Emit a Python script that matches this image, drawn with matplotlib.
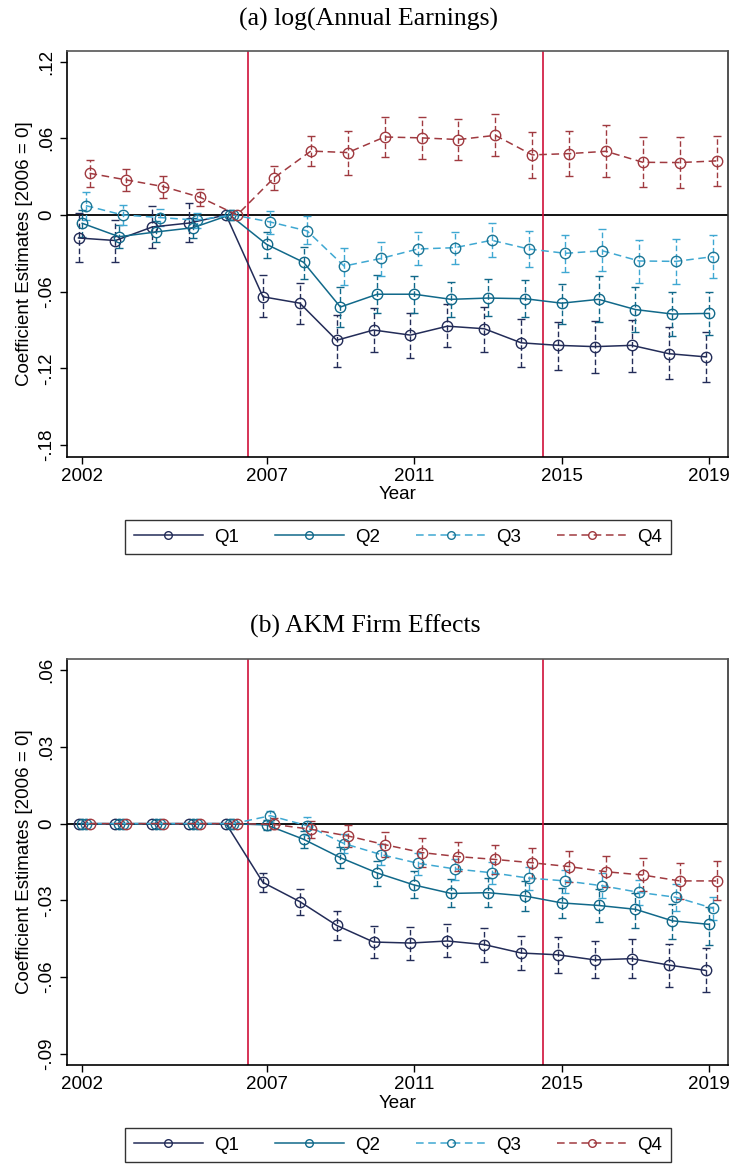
import numpy as np
import matplotlib.pyplot as plt
from matplotlib.lines import Line2D

plt.rcParams['font.family'] = ['Liberation Sans', 'DejaVu Sans']

years = np.arange(2002, 2020)
groups = ['Q1', 'Q2', 'Q3', 'Q4']

# (a) log(annual earnings): estimates and 95% bounds, 2002-2019
earn_q1 = [-0.018, -0.020, -0.0094, -0.0063, 0, -0.064, -0.069, -0.098, -0.090, -0.094, -0.087, -0.089, -0.100, -0.102, -0.103, -0.102, -0.1085, -0.111]
earn_q1_lo = [-0.037, -0.0365, -0.026, -0.021, 0, -0.080, -0.085, -0.119, -0.1075, -0.112, -0.103, -0.107, -0.119, -0.121, -0.124, -0.123, -0.128, -0.131]
earn_q1_hi = [0.0013, -0.004, 0.0073, 0.009, 0, -0.047, -0.053, -0.078, -0.0725, -0.0765, -0.070, -0.072, -0.081, -0.084, -0.083, -0.082, -0.088, -0.0916]

earn_q2 = [-0.0065, -0.017, -0.0133, -0.010, 0, -0.023, -0.037, -0.072, -0.062, -0.062, -0.066, -0.065, -0.0655, -0.069, -0.066, -0.074, -0.0775, -0.077]
earn_q2_lo = [-0.017, -0.026, -0.021, -0.018, 0, -0.034, -0.050, -0.088, -0.077, -0.0765, -0.0796, -0.079, -0.080, -0.085, -0.0835, -0.0913, -0.0947, -0.0937]
earn_q2_hi = [0.004, -0.008, -0.005, -0.002, 0, -0.0136, -0.025, -0.056, -0.047, -0.0475, -0.0527, -0.050, -0.0506, -0.0537, -0.048, -0.0566, -0.060, -0.060]

earn_q3 = [0.0073, 0.0, -0.002, -0.004, 0, -0.0055, -0.0125, -0.040, -0.034, -0.0266, -0.0256, -0.0198, -0.0266, -0.030, -0.028, -0.036, -0.0363, -0.0326]
earn_q3_lo = [-0.004, -0.008, -0.009, -0.0104, 0, -0.015, -0.0227, -0.055, -0.048, -0.039, -0.0386, -0.0329, -0.041, -0.045, -0.044, -0.053, -0.054, -0.0496]
earn_q3_hi = [0.018, 0.0076, 0.0044, 0.0013, 0, 0.0034, -0.0005, -0.026, -0.021, -0.013, -0.013, -0.006, -0.0125, -0.0157, -0.011, -0.0196, -0.019, -0.016]

earn_q4 = [0.0326, 0.0274, 0.0222, 0.0138, 0, 0.029, 0.050, 0.0488, 0.061, 0.0603, 0.059, 0.0623, 0.047, 0.048, 0.0498, 0.0412, 0.041, 0.0423]
earn_q4_lo = [0.022, 0.0188, 0.013, 0.007, 0, 0.0196, 0.0386, 0.031, 0.045, 0.044, 0.043, 0.046, 0.029, 0.0308, 0.030, 0.0217, 0.0214, 0.023]
earn_q4_hi = [0.043, 0.036, 0.0305, 0.0206, 0, 0.038, 0.062, 0.066, 0.0767, 0.0767, 0.075, 0.0788, 0.065, 0.066, 0.070, 0.061, 0.061, 0.062]

# (b) AKM firm effects: 2002-2006 are all zero
akm_q1 = [0, 0, 0, 0, 0, -0.023, -0.0305, -0.0398, -0.0463, -0.0467, -0.0459, -0.0473, -0.0506, -0.0513, -0.0533, -0.0528, -0.0553, -0.0574]
akm_q1_lo = [0, 0, 0, 0, 0, -0.0266, -0.0357, -0.0456, -0.0524, -0.0533, -0.0523, -0.054, -0.0573, -0.0583, -0.0605, -0.0603, -0.0638, -0.0657]
akm_q1_hi = [0, 0, 0, 0, 0, -0.0192, -0.0254, -0.034, -0.040, -0.0403, -0.0394, -0.0407, -0.0438, -0.0442, -0.046, -0.0453, -0.047, -0.0488]

akm_q2 = [0, 0, 0, 0, 0, -0.0005, -0.0061, -0.0133, -0.0193, -0.024, -0.0273, -0.027, -0.0283, -0.031, -0.032, -0.0335, -0.038, -0.0394]
akm_q2_lo = [0, 0, 0, 0, 0, -0.0025, -0.0094, -0.0175, -0.0243, -0.029, -0.0326, -0.0326, -0.034, -0.037, -0.0386, -0.0407, -0.0453, -0.0475]
akm_q2_hi = [0, 0, 0, 0, 0, 0.0015, -0.003, -0.009, -0.0146, -0.0185, -0.0218, -0.0211, -0.0223, -0.025, -0.0256, -0.027, -0.0314, -0.0325]

akm_q3 = [0, 0, 0, 0, 0, 0.0031, -0.0008, -0.0078, -0.0121, -0.0155, -0.0177, -0.0192, -0.0213, -0.0224, -0.0243, -0.0269, -0.0288, -0.0331]
akm_q3_lo = [0, 0, 0, 0, 0, 0.0005, -0.0044, -0.0116, -0.016, -0.020, -0.022, -0.0237, -0.026, -0.0273, -0.029, -0.0318, -0.034, -0.0377]
akm_q3_hi = [0, 0, 0, 0, 0, 0.005, 0.0027, -0.0042, -0.008, -0.0116, -0.0137, -0.0151, -0.017, -0.018, -0.0194, -0.022, -0.0237, -0.0285]

akm_q4 = [0, 0, 0, 0, 0, -0.0003, -0.0022, -0.0048, -0.0082, -0.0113, -0.0129, -0.014, -0.0153, -0.0168, -0.0188, -0.0201, -0.0224, -0.0224]
akm_q4_lo = [0, 0, 0, 0, 0, -0.002, -0.0057, -0.0093, -0.0132, -0.0168, -0.0185, -0.0197, -0.0211, -0.023, -0.0249, -0.0263, -0.0295, -0.0299]
akm_q4_hi = [0, 0, 0, 0, 0, 0.0023, 0.001, -0.0005, -0.0034, -0.0057, -0.0073, -0.0083, -0.0095, -0.0107, -0.0125, -0.0133, -0.0153, -0.0146]

xticks = [2002, 2007, 2011, 2015, 2019]
event_years = [2006.5, 2014.5]
earn_yticks = [0.12, 0.06, 0, -0.06, -0.12, -0.18]
earn_yticklabels = ['.12', '.06', '0', '-.06', '-.12', '-.18']
akm_yticks = [0.06, 0.03, 0, -0.03, -0.06, -0.09]
akm_yticklabels = ['.06', '.03', '0', '-.03', '-.06', '-.09']

# styles
line_colors = ['#232c58', '#11698a', '#3fa8d2', '#a03a40']
marker_colors = ['#232c58', '#11698a', '#1c7696', '#a03a40']
line_styles = ['-', '-', (0, (5, 3)), (0, (5, 3))]
dodge = [-0.1, 0.0, 0.1, 0.2]
FS = 13.5


def draw_panel(ax, series, yticks, yticklabels, ylim):
    for i, (est, lo, hi) in enumerate(series):
        est = np.array(est)
        lo = np.array(lo)
        hi = np.array(hi)
        x = years + dodge[i]
        # error bars only where the interval is not degenerate
        keep = hi != lo
        eb = ax.errorbar(x[keep], est[keep], yerr=[est[keep] - lo[keep], hi[keep] - est[keep]],
                         fmt='none', ecolor=line_colors[i], elinewidth=1.0, capsize=2.6,
                         capthick=1.0, zorder=3)
        eb[2][0].set_linestyle((0, (4, 2)))
        ax.plot(x, est, color=line_colors[i], ls=line_styles[i], lw=1.1, marker='o',
                ms=7.5, mfc='none', mec=marker_colors[i], mew=1.0, zorder=4)

    ax.axhline(0, color='black', lw=1.3, zorder=2)
    for ev in event_years:
        ax.axvline(ev, color='#d0103a', lw=1.2, zorder=2)

    ax.set_xlim(2001.58, 2019.5)
    ax.set_ylim(*ylim)
    ax.set_xticks(xticks)
    ax.set_xticklabels([str(t) for t in xticks], fontsize=FS)
    ax.set_yticks(yticks)
    ax.set_yticklabels(yticklabels, fontsize=FS, rotation=90, va='center')
    ax.tick_params(direction='out', length=5, width=1, pad=3, top=False, right=False)
    ax.set_xlabel('Year', fontsize=FS, labelpad=1)
    ax.set_ylabel('Coefficient Estimates [2006 = 0]', fontsize=FS, labelpad=4)
    for s in ax.spines.values():
        s.set_linewidth(1.2)
    ax.spines['top'].set_color('#555555')
    ax.spines['right'].set_color('#333333')


fig = plt.figure(figsize=(7.3, 11.65), dpi=100)

ax1 = fig.add_axes([66.7 / 730, 1 - 456.7 / 1165, 661 / 730, 406 / 1165])
draw_panel(ax1, [(earn_q1, earn_q1_lo, earn_q1_hi), (earn_q2, earn_q2_lo, earn_q2_hi),
                 (earn_q3, earn_q3_lo, earn_q3_hi), (earn_q4, earn_q4_lo, earn_q4_hi)],
           earn_yticks, earn_yticklabels, (-0.1891, 0.1285))

ax2 = fig.add_axes([66.7 / 730, 1 - 1065 / 1165, 661 / 730, 406 / 1165])
draw_panel(ax2, [(akm_q1, akm_q1_lo, akm_q1_hi), (akm_q2, akm_q2_lo, akm_q2_hi),
                 (akm_q3, akm_q3_lo, akm_q3_hi), (akm_q4, akm_q4_lo, akm_q4_hi)],
           akm_yticks, akm_yticklabels, (-0.0944, 0.0644))

fig.text(0.505, 1 - 19 / 1165, '(a) log(Annual Earnings)', ha='center', va='center',
         fontsize=18.5, family='Liberation Serif')
fig.text(0.5, 1 - 626 / 1165, '(b) AKM Firm Effects', ha='center', va='center',
         fontsize=18.5, family='Liberation Serif')

# legends below each panel
handles = [Line2D([], [], color=line_colors[i], ls=line_styles[i], lw=1.1, marker='o', ms=5.5,
                  mfc='none', mec=marker_colors[i], mew=1.0) for i in range(4)]
for yc in [537, 1145]:
    leg = fig.legend(handles, groups, loc='center', bbox_to_anchor=(398 / 730, 1 - yc / 1165),
                     ncol=4, fontsize=FS, frameon=True, fancybox=False, handlelength=3.7,
                     handletextpad=0.6, columnspacing=1.9, borderpad=0.45, numpoints=1)
    leg.get_frame().set_edgecolor('black')
    leg.get_frame().set_linewidth(1.0)

plt.savefig('out.png', dpi=100)
